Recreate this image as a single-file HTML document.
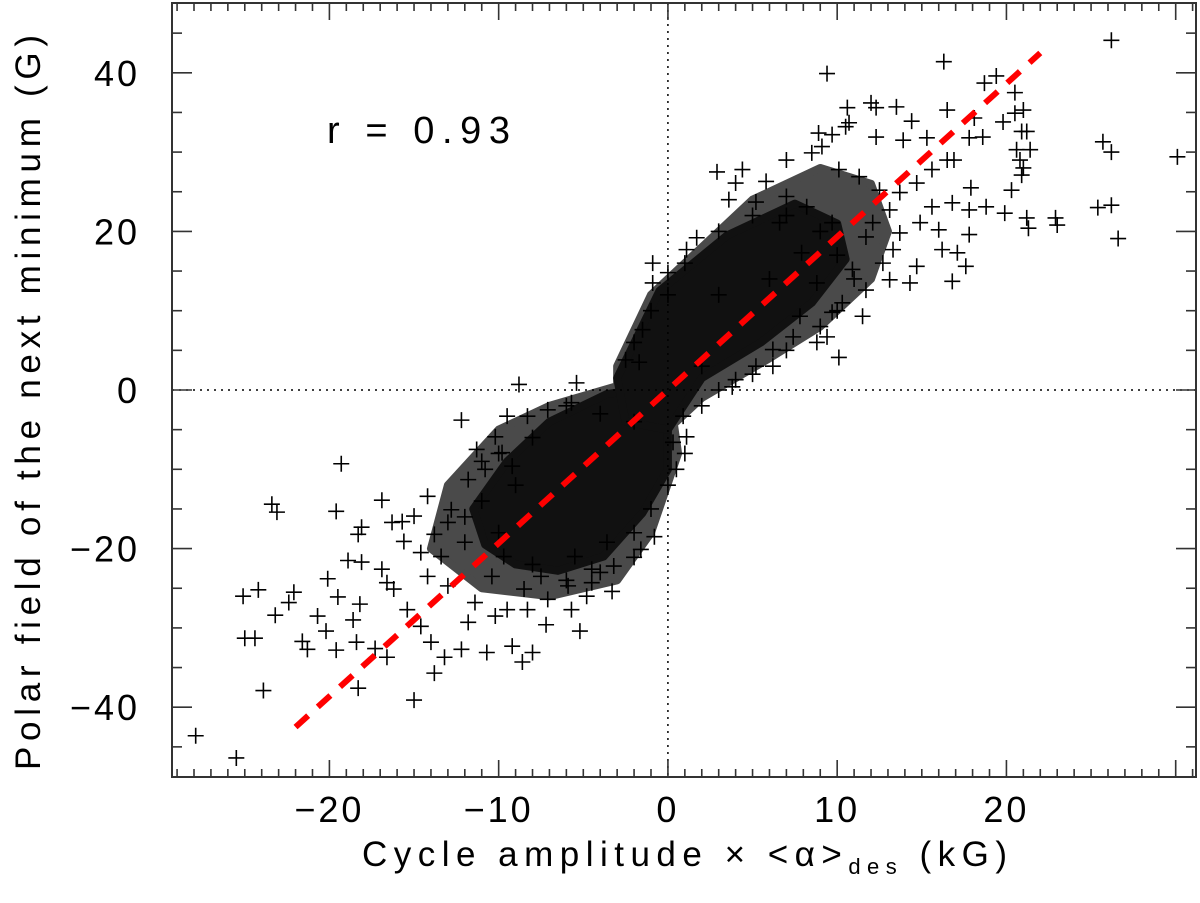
<!DOCTYPE html>
<html><head><meta charset="utf-8"><style>
html,body{margin:0;padding:0;background:#fff;}
svg{display:block;}
text{font-family:"Liberation Sans","DejaVu Sans",sans-serif;fill:#000;}
</style></head>
<body>
<svg id="chart" width="1200" height="903" viewBox="0 0 1200 903" xmlns="http://www.w3.org/2000/svg">
<g id="core"></g>
<g id="pts"></g>
<g id="zero"></g>
<g id="fit"></g>
<g id="axes"></g>
<text x="327" y="143" font-size="38" textLength="183" lengthAdjust="spacing">r = 0.93</text>
<text x="362" y="866" font-size="35" textLength="645" lengthAdjust="spacing">Cycle amplitude × &lt;α&gt;<tspan font-size="22" dy="8">des</tspan><tspan dy="-8"> (kG)</tspan></text>
<text transform="translate(40,770) rotate(-90)" font-size="35" textLength="735" lengthAdjust="spacing">Polar field of the next minimum (G)</text>
</svg>
<script>
const xDomain=[-29.3,31.2];
const yDomain=[-48.8,48.8];
const xTicks=[-20,-10,0,10,20];
const yTicks=[-40,-20,0,20,40];
const fitX=[-22,22];
const fitY=[-42.5,42.5];
const outerLowX=[-13,-10,-7,-3,0,0.6,-1,-3,-7,-11,-14];
const outerLowY=[-12,-5,-2,0.5,1,-8,-18,-24,-26,-25,-20];
const outerUpX=[-3,-1,2,5,9,12,13,12,9,6,2,0.5,-3];
const outerUpY=[3,12,18,24,28,26,20,14,8,4,-1,-4,-2];
const coreLowX=[-9.5,-7,-3.6,0,0,-1.5,-3.8,-6.5,-9,-10.8,-11.5];
const coreLowY=[-9,-4,-0.5,0.5,-10,-15.5,-21,-22.8,-22,-19.5,-15];
const coreUpX=[-3,-0.5,3.5,7.5,10,10.5,8.5,5.5,2,0,-2.5];
const coreUpY=[1.5,12.5,19.5,23.5,21,16.5,11,6,1.5,-5,-4];
const ptX=[-27.9,-25.5,-23.9,-19.3,-23.4,-23.1,-19.6,-16.9,-12.2,-8.8,-5.4,-25.1,-24.2,-24.4,-25,-23.2,-22.4,-22.1,-21.6,-21.3,-20.7,-20.2,-20.1,-19.5,-19.6,-18.9,-18.2,-18.6,-18.4,-18.1,-18.3,-18.1,-17.3,-16.6,-18.3,-15,-13.8,-13.2,-16.3,-15.7,-15,-15.6,-16.2,-16.6,-16.9,-15.4,-14.6,-14,-12.2,-10.7,-9.2,-8.6,-8,-7.2,-5.2,-5.7,-4.8,-3.3,-0.8,-2,-4.5,-14.2,-12.8,-11.8,-11.3,-10.2,-9.5,-8.3,-7.1,-5.7,-9.8,-9.2,-10.8,-12,-13.4,-14.2,-13,-11.4,-10.2,-11.8,-9.5,-8.3,-7.1,-5.9,-4.5,-3.2,-1.6,-3.6,-5.5,-7.5,-8.5,-10.4,-9.7,-14.6,-13.8,-13,
-10,-9,-11,-12,-10,-8,-6,-4,-2,-1,0.5,1,0,-2,-4,-6,-8,-11,
9.4,16.3,19.4,18.7,20.5,21,20.5,19.8,20.9,21.2,20.6,20.8,21,20.9,20.3,19.9,21.2,21.3,10.6,12,12.3,13.5,14.4,16.5,18.1,17.8,18.6,16.5,16.9,10.5,10.7,8.9,9.7,12.3,13.9,15.3,2.9,4.4,4,3.6,5.2,5.8,7,8.5,9.1,17.9,18.8,17.8,16.8,15.6,14.9,16,17.8,16.2,17.1,17.6,16.8,14.7,14.3,13.1,10.1,9.4,8.8,11.5,10.3,11.7,12.7,13.3,13.7,13.1,12.5,11.3,10.1,-0.9,-0.9,0,1.1,1.7,-1.5,-2.5,-1.7,4,3.8,0.9,1.1,0.3,7.9,8.8,9.7,7.8,6.2,5.2,6.2,7.4,10.9,9.7,8.2,7,6.6,11.7,12.1,13.7,14.7,15.6,
26.2,25.7,26.2,30.1,25.4,26.2,26.6,22.9,23,21.4,
-2,-1,0,1,3,5,7,9,10,11,10,9,7,5,3,2,2,3,6];
const ptY=[-43.6,-46.4,-37.9,-9.3,-14.4,-15.4,-15.3,-13.9,-3.8,0.7,0.9,-26,-25.2,-31.3,-31.3,-28.4,-26.8,-25.5,-31.7,-32.7,-28.5,-30.4,-23.8,-26.1,-32.8,-21.5,-27,-29,-31.8,-21.7,-18.2,-17.3,-32.6,-33.7,-37.6,-39.1,-35.7,-33.7,-16.7,-16.6,-15.9,-19.1,-25.1,-24.3,-22.6,-27.7,-29.8,-31.8,-32.7,-33.1,-32.3,-34.3,-33.1,-29.6,-30.4,-27.7,-26,-25.4,-18.5,-21.1,-22.6,-13.4,-15.1,-11.3,-7.5,-5.9,-3.3,-3.3,-2.5,-1.6,-7.9,-9.6,-10,-19.2,-21,-23.5,-24.7,-26.8,-28.5,-29.3,-27.7,-27.7,-26.4,-24.7,-24.3,-22.2,-20.1,-19.2,-21,-23.5,-25.1,-23.5,-21,-20.5,-18.2,-16.7,
-8,-12,-14,-16,-18,-22,-24,-23,-18,-15,-10,-8,-12,-4,-3,-2,-6,-9,
39.9,41.4,39.6,38.7,37.5,35.3,34.9,33.8,32.6,32.6,30.3,29,28,27.1,25.2,22.3,21.7,20.4,35.6,36.2,35.6,35.7,33.9,35.3,34.3,31.8,31.9,29,29,33.2,33.7,32.4,32.2,31.9,31.5,31.8,27.5,27.8,26.1,24,23.7,26.3,29,29.9,30.7,25.5,23.1,22.7,23.6,23.1,21.1,20.2,19.6,17.7,17.3,15.6,13.7,15.6,13.5,13.9,4.1,6.7,6,9.3,11,12.6,16,17.7,19.8,22.7,25.2,26.9,27.8,16,13.5,14.8,17.7,19.2,7.6,3.8,3.5,1.3,0.4,-3.3,-5.9,-6.6,17.3,13.5,9.8,9.3,5.1,3,3,6.7,15.2,21.1,23.1,24.4,21.1,19.3,21.1,24.9,26.1,27.8,
44.1,31.3,30,29.4,23,23.3,19.1,21.7,20.8,30.3,
6,10,12,16,20,22,22,20,17,14,10,8,5,2,0,-2,3,12,14];

const L=172,R=1196,T=3,B=777;
const sx=v=>L+(v-xDomain[0])/(xDomain[1]-xDomain[0])*(R-L);
const sy=v=>B-(v-yDomain[0])/(yDomain[1]-yDomain[0])*(B-T);
const NS="http://www.w3.org/2000/svg";
function mk(tag,parent,attrs){const e=document.createElementNS(NS,tag);for(const k in attrs)e.setAttribute(k,attrs[k]);parent.appendChild(e);return e;}

const core=document.getElementById('core');
[[outerLowX,outerLowY,'halo-lower','#4a4a4a'],[outerUpX,outerUpY,'halo-upper','#4a4a4a'],[coreLowX,coreLowY,'core-lower','#111'],[coreUpX,coreUpY,'core-upper','#111']].forEach(([xs,ys,nm,c])=>{
  const pts=xs.map((x,i)=>sx(x)+','+sy(ys[i])).join(' ');
  const p=mk('polygon',core,{points:pts,fill:c,stroke:c,'stroke-width':8,'stroke-linejoin':'round'});
  
  
});

const pg=document.getElementById('pts');
ptX.forEach((x,i)=>{
  const cx=sx(x),cy=sy(ptY[i]);
  const p=mk('path',pg,{d:`M${cx-8},${cy}H${cx+8}M${cx},${cy-8}V${cy+8}`,stroke:'#000','stroke-width':1.6,fill:'none'});
  
  
});

const z=document.getElementById('zero');
mk('line',z,{x1:sx(0),x2:sx(0),y1:T,y2:B,stroke:'#000','stroke-width':1.5,'stroke-dasharray':'2 5'});
mk('line',z,{x1:L,x2:R,y1:sy(0),y2:sy(0),stroke:'#000','stroke-width':1.5,'stroke-dasharray':'2 5'});

const fl=mk('line',document.getElementById('fit'),{x1:sx(fitX[0]),y1:sy(fitY[0]),x2:sx(fitX[1]),y2:sy(fitY[1]),stroke:'#ff0000','stroke-width':6,'stroke-dasharray':'17 13'});



const ax=document.getElementById('axes');
mk('rect',ax,{x:L,y:T,width:R-L,height:B-T,fill:'none',stroke:'#333','stroke-width':2});
for(let v=Math.ceil(xDomain[0]);v<=xDomain[1];v++){
  const major=v%10===0, len=major?17:8, x=sx(v);
  mk('line',ax,{x1:x,x2:x,y1:B,y2:B-len,stroke:'#333','stroke-width':1.6});
  mk('line',ax,{x1:x,x2:x,y1:T,y2:T+len,stroke:'#333','stroke-width':1.6});
}
for(let v=-45;v<=45;v+=5){
  const major=v%20===0, len=major?20:10, y=sy(v);
  mk('line',ax,{x1:L,x2:L+len,y1:y,y2:y,stroke:'#333','stroke-width':1.6});
  mk('line',ax,{x1:R,x2:R-len,y1:y,y2:y,stroke:'#333','stroke-width':1.6});
}
xTicks.forEach(v=>{
  const t=mk('text',ax,{x:sx(v),y:822,'font-size':36,'text-anchor':'middle','letter-spacing':3});
  t.textContent=(v<0?'\u2212':'')+Math.abs(v);
  
  
});
yTicks.forEach(v=>{
  const t=mk('text',ax,{x:140,y:sy(v)+13,'font-size':36,'text-anchor':'end','letter-spacing':3});
  t.textContent=(v<0?'\u2212':'')+Math.abs(v);
  
  
});
</script>
</body></html>
